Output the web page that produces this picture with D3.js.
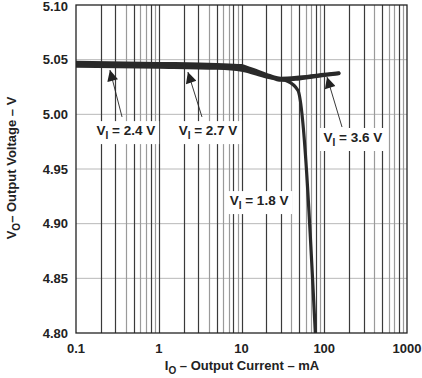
<!DOCTYPE html>
<html><head><meta charset="utf-8">
<script src="https://cdn.jsdelivr.net/npm/d3@7"></script>
<style>body{margin:0;background:#fff}svg{display:block}text{font-family:"Liberation Sans",Arial,sans-serif;font-weight:bold;fill:#222}</style>
</head><body>
<svg id="c" width="422" height="378"></svg>
<script>
const xTicks = [0.1, 1, 10, 100, 1000];
const xTickLabels = ["0.1", "1", "10", "100", "1000"];
const yTicks = [4.80, 4.85, 4.90, 4.95, 5.00, 5.05, 5.10];
const yTickLabels = ["4.80", "4.85", "4.90", "4.95", "5.00", "5.05", "5.10"];
const darkMinor = [2, 3, 5, 8];

const s24 = [[0.1,5.0475],[1,5.0465],[5,5.0455],[10,5.0445],[12,5.0425],[15,5.0400],[20,5.0365],[30,5.033],[50,5.034],[100,5.0365],[150,5.0380]];
const s27 = [[0.1,5.0462],[1,5.0452],[5,5.0442],[10,5.0425],[20,5.0358],[30,5.0322],[50,5.0333],[100,5.036],[150,5.0375]];
const s36 = [[0.1,5.0450],[1,5.0440],[5,5.0430],[10,5.0412],[20,5.0350],[30,5.0312],[50,5.0325],[100,5.0355],[150,5.0372]];
const s18 = [[0.1,5.0440],[1,5.0432],[5,5.0422],[10,5.0405],[20,5.0343],[36,5.0303],[48,5.022],[78,4.80]];
const seriesList = [s24, s27, s36, s18];

// annotations: label text (value), label anchor (data), arrow from/to (data)
const annLabels = ["2.4", "2.7", "3.6", "1.8"];
const annText = [[0.40,4.981],[3.94,4.981],[222,4.9747],[16.3,4.917]];
const annArrowFrom = [[0.36,4.9976],[3.33,4.9976],[164,4.9884],null];
const annArrowTo = [[0.257,5.0405],[2.25,5.0387],[108,5.0341],null];

const svg = d3.select("#c");
const x = d3.scaleLog().domain([0.1, 1000]).range([76, 407]);
const y = d3.scaleLinear().domain([4.80, 5.10]).range([333, 5]);

// horizontal grid
svg.append("g").selectAll("line").data(yTicks.slice(1, -1)).join("line")
  .attr("x1", x.range()[0]).attr("x2", x.range()[1])
  .attr("y1", d => y(d)).attr("y2", d => y(d))
  .attr("stroke", "#b8b8b8").attr("stroke-width", 1);

// vertical grid
const vgrid = [];
for (let e = -1; e < 3; e++) {
  for (let m = 1; m <= 9; m++) {
    if (m === 1 && e === -1) continue;
    vgrid.push({v: m * Math.pow(10, e), dark: m === 1 ? true : darkMinor.includes(m)});
  }
}
svg.append("g").selectAll("line").data(vgrid).join("line")
  .attr("x1", d => Math.round(x(d.v)) + 0.5).attr("x2", d => Math.round(x(d.v)) + 0.5)
  .attr("y1", y.range()[0]).attr("y2", y.range()[1])
  .attr("stroke", d => d.dark ? "#3a3a3a" : "#9a9a9a").attr("stroke-width", 1.2);

// curves
const line = d3.line().x(d => x(d[0])).y(d => y(d[1])).curve(d3.curveMonotoneX);
svg.append("clipPath").attr("id", "pc").append("rect")
  .attr("x", 76).attr("y", 5).attr("width", 331).attr("height", 328);
svg.append("g").attr("clip-path", "url(#pc)").selectAll("path").data(seriesList).join("path")
  .attr("d", line).attr("fill", "none").attr("stroke", "#2a2a2a")
  .attr("stroke-width", 3.2).attr("stroke-linejoin", "round").attr("stroke-linecap", "round");

// frame
svg.append("rect").attr("x", 76).attr("y", 5).attr("width", 331).attr("height", 328)
  .attr("fill", "none").attr("stroke", "#222").attr("stroke-width", 1.3);

// tick labels
svg.append("g").selectAll("text").data(yTicks).join("text")
  .attr("x", 68).attr("y", d => Math.max(y(d) + 4.5, 11)).attr("text-anchor", "end")
  .attr("font-size", 13).text((d, i) => yTickLabels[i]);
svg.append("g").selectAll("text").data(xTicks).join("text")
  .attr("x", d => x(d)).attr("y", 353).attr("text-anchor", "middle")
  .attr("font-size", 13).text((d, i) => xTickLabels[i]);

// axis titles
const xt = svg.append("text").attr("x", 242).attr("y", 370).attr("text-anchor", "middle").attr("font-size", 13);
xt.append("tspan").text("I");
xt.append("tspan").attr("font-size", 10).attr("dy", 3.5).text("O");
xt.append("tspan").attr("dy", -3.5).text(" \u2013 Output Current \u2013 mA");

const yt = svg.append("text").attr("transform", "translate(16,168) rotate(-90)").attr("text-anchor", "middle").attr("font-size", 13);
yt.append("tspan").text("V");
yt.append("tspan").attr("font-size", 10).attr("dy", 4).text("O");
yt.append("tspan").attr("dy", -4).text("\u2013 Output Voltage \u2013 V");

// arrowhead marker
svg.append("defs").append("marker").attr("id", "ah").attr("viewBox", "0 0 10 10")
  .attr("refX", 10).attr("refY", 5).attr("markerWidth", 14).attr("markerHeight", 11)
  .attr("markerUnits", "userSpaceOnUse").attr("orient", "auto")
  .append("path").attr("d", "M0,0L10,5L0,10Z").attr("fill", "#222");

annLabels.forEach((lab, i) => {
  const g = svg.append("g");
  if (annArrowFrom[i]) {
    g.append("line")
      .attr("x1", x(annArrowFrom[i][0])).attr("y1", y(annArrowFrom[i][1]))
      .attr("x2", x(annArrowTo[i][0])).attr("y2", y(annArrowTo[i][1]))
      .attr("stroke", "#222").attr("stroke-width", 0.9).attr("marker-end", "url(#ah)");
  }
  const bg = g.append("rect").attr("fill", "#fff");
  const t = g.append("text").attr("x", x(annText[i][0])).attr("y", y(annText[i][1]))
    .attr("text-anchor", "middle").attr("font-size", 13.5);
  t.append("tspan").text("V");
  t.append("tspan").attr("font-size", 10).attr("dy", 4).text("I");
  t.append("tspan").attr("dy", -4).text(" = " + lab + " V");
  const b = t.node().getBBox();
  bg.attr("x", b.x - 4).attr("y", b.y - 2).attr("width", b.width + 8).attr("height", b.height + 5);
});
</script>
</body></html>
